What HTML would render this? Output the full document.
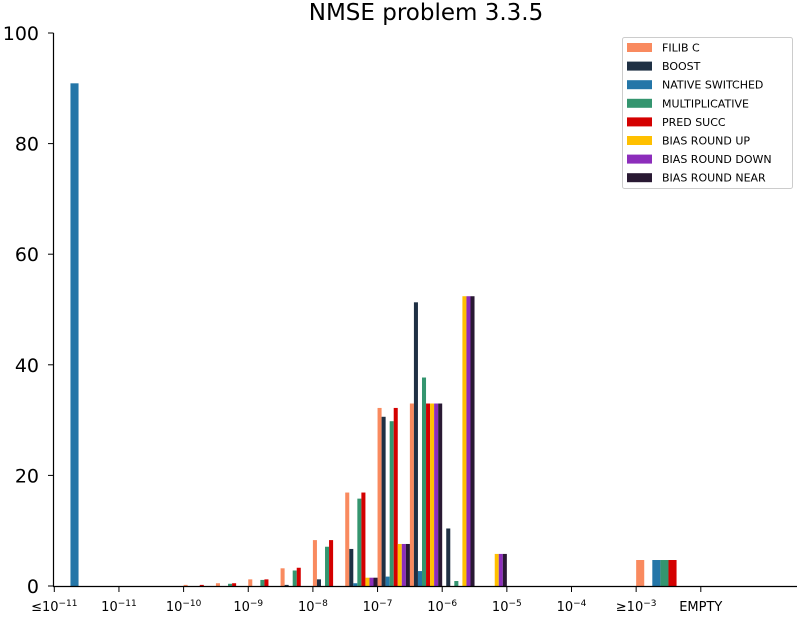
<!DOCTYPE html>
<html><head><meta charset="utf-8"><style>
body{margin:0;background:#fff;}
svg text{font-family:"DejaVu Sans","Liberation Sans",sans-serif;}
</style></head><body>
<svg id="chart" width="798" height="617" viewBox="0 0 798 617" xmlns="http://www.w3.org/2000/svg">
<text x="426" y="20" font-size="23" text-anchor="middle">NMSE problem 3.3.5</text>
<g id="bars"></g>
<g id="axes"></g>
<g id="legend"></g>
</svg>
<script>
const seriesNames = ["FILIB C","BOOST","NATIVE SWITCHED","MULTIPLICATIVE","PRED SUCC","BIAS ROUND UP","BIAS ROUND DOWN","BIAS ROUND NEAR"];
const seriesColors = ["#f98a5f","#1f3044","#2476a8","#34956f","#d40000","#ffc000","#8c2dbb","#291933"];
const filib  = [0,0,0,0.2,0.5,1.2,3.2,8.3,16.9,32.2,33.0,0,0,0,0,0,0,4.7];
const boost  = [0,0,0,0,0,0,0.2,1.2,6.7,30.6,51.3,10.4,0,0,0,0,0,0];
const native = [90.9,0,0,0,0,0,0,0,0.5,1.7,2.7,0,0,0,0,0,0,4.7];
const mult   = [0,0,0,0,0.4,1.1,2.8,7.1,15.8,29.8,37.7,0.9,0,0,0,0,0,4.7];
const pred   = [0,0,0,0.2,0.5,1.2,3.3,8.3,16.9,32.2,33.0,0,0,0,0,0,0,4.7];
const biasUp   = [0,0,0,0,0,0,0,0,1.5,7.6,33.0,52.4,5.8,0,0,0,0,0];
const biasDown = [0,0,0,0,0,0,0,0,1.5,7.6,33.0,52.4,5.8,0,0,0,0,0];
const biasNear = [0,0,0,0,0,0,0,0,1.5,7.6,33.0,52.4,5.8,0,0,0,0,0];
const xTickLabels = ["≤10<sup>−11</sup>","10<sup>−11</sup>","10<sup>−10</sup>","10<sup>−9</sup>","10<sup>−8</sup>","10<sup>−7</sup>","10<sup>−6</sup>","10<sup>−5</sup>","10<sup>−4</sup>","≥10<sup>−3</sup>","EMPTY"];
const yTicks = [0,20,40,60,80,100];

const series = [filib,boost,native,mult,pred,biasUp,biasDown,biasNear];
const NS = "http://www.w3.org/2000/svg";
const xPx = u => 54.3 + 64.65*u;
const yPx = v => 586 - v*5.53;
function binRange(j, n){ if(j===0) return [0,1]; if(j===n-1) return [9,10]; return [1+0.5*(j-1), 1+0.5*j]; }
function mk(tag, attrs, parent){ const e=document.createElementNS(NS,tag); for(const k in attrs) e.setAttribute(k,attrs[k]); parent.appendChild(e); return e; }

const gb = document.getElementById('bars');
series.forEach((vals, s) => {
  vals.forEach((v, j) => {
    if(v<=0) return;
    const [a,b] = binRange(j, vals.length);
    const w = (b-a)/8;
    const x0 = xPx(a + s*w), x1 = xPx(a + (s+1)*w);
    const r = mk('rect',{x:x0,y:yPx(v),width:x1-x0,height:yPx(0)-yPx(v),fill:seriesColors[s]},gb);
    
    
  });
});

const ga = document.getElementById('axes');
let l = mk('line',{x1:53.5,y1:yPx(100),x2:53.5,y2:586.5,stroke:'#000','stroke-width':1.2},ga);


l = mk('line',{x1:53,y1:586.5,x2:797,y2:586.5,stroke:'#000','stroke-width':1.2},ga);


yTicks.forEach(v => {
  const y = yPx(v);
  mk('line',{x1:48,y1:y,x2:53.5,y2:y,stroke:'#000','stroke-width':1},ga);
  const t = mk('text',{x:39,y:y+7,'font-size':19,'text-anchor':'end'},ga);
  t.textContent = v;
  
  
});
xTickLabels.forEach((lab, i) => {
  const x = xPx(i);
  mk('line',{x1:x,y1:586.5,x2:x,y2:592,stroke:'#000','stroke-width':1},ga);
  const t = mk('text',{x:x,y:611,'font-size':13,'text-anchor':'middle'},ga);
  const m = lab.match(/^(.*?)<sup>(.*)<\/sup>$/);
  if(m){
    const a = document.createElementNS(NS,'tspan'); a.textContent = m[1]; t.appendChild(a);
    const b = document.createElementNS(NS,'tspan'); b.setAttribute('dy','-5'); b.setAttribute('font-size','9'); b.textContent = m[2]; t.appendChild(b);
  } else t.textContent = lab;
  
  
});

const gl = document.getElementById('legend');
mk('rect',{x:622.5,y:37.5,width:170,height:151,rx:2,fill:'#fff',stroke:'#ccc','stroke-width':1},gl);
seriesNames.forEach((n, s) => {
  const y = 47 + s*18.6;
  const sw = mk('rect',{x:627,y:y-4,width:25,height:9,fill:seriesColors[s]},gl);
  
  
  const t = mk('text',{x:662,y:y+4.5,'font-size':11},gl);
  t.textContent = n;
  
  
});
</script>
</body></html>
